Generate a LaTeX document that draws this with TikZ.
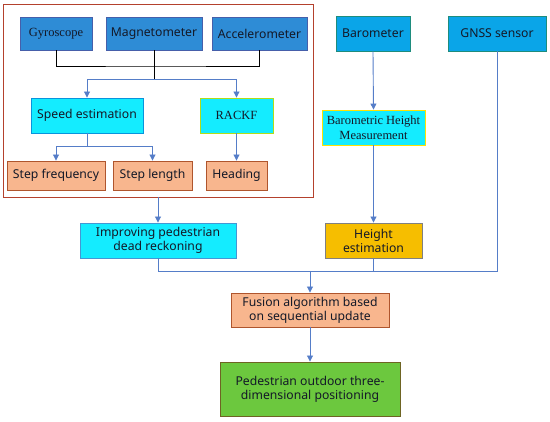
\documentclass[tikz,border=0pt]{standalone}
\usepackage{fontspec}
\setmainfont{Noto Sans}
\newfontfamily\serifpart{Liberation Serif}
\usetikzlibrary{arrows.meta}
\definecolor{sensorblue}{RGB}{46,140,214}
\definecolor{sensorline}{RGB}{70,95,170}
\definecolor{skyblue}{RGB}{10,165,232}
\definecolor{skyline}{RGB}{30,140,125}
\definecolor{brightcyan}{RGB}{20,236,255}
\definecolor{salmon}{RGB}{248,182,142}
\definecolor{salmonline}{RGB}{175,85,45}
\definecolor{amber}{RGB}{246,190,0}
\definecolor{leafgreen}{RGB}{108,200,62}
\definecolor{oliveline}{RGB}{110,100,35}
\definecolor{flowblue}{RGB}{85,125,200}
\definecolor{framered}{RGB}{180,65,45}
\definecolor{textdark}{RGB}{20,25,40}

\tikzset{
    box/.style={draw, line width=0.9pt, align=center, inner sep=1pt, text=textdark, font=\fontsize{12.2}{14}\selectfont},
    sensor/.style={box, fill=sensorblue, draw=sensorline},
    sensorb/.style={box, fill=skyblue, draw=skyline},
    stage/.style={box, fill=brightcyan},
    result/.style={box, fill=salmon, draw=salmonline},
    serifbox/.style={font=\serifpart\fontsize{12.5}{14.5}\selectfont},
    flow/.style={draw=flowblue, line width=0.9pt, -{Triangle[length=6pt, width=6pt]}},
    feed/.style={draw=flowblue, line width=0.9pt},
}

\begin{document}
\begin{tikzpicture}[x=1pt, y=-1pt]
        \useasboundingbox (0,0) rectangle (550,422);
        % 左側の枠
        \node[draw=framered, line width=0.8pt, minimum width=310pt, minimum height=193pt, inner sep=0pt] (frame) at (158,100.5) {};
        % センサ
        \node[sensor, serifbox, minimum width=72pt, minimum height=33pt] (gyro) at (56,33.5) {Gyroscope};
        \node[sensor, minimum width=96pt, minimum height=33pt] (magneto) at (154,33.5) {Magnetometer};
        \node[sensor, minimum width=95pt, minimum height=33pt] (accel) at (259.5,33.5) {Accelerometer};
        \node[sensorb, minimum width=74pt, minimum height=35pt] (baro) at (373,33.5) {Barometer};
        \node[sensorb, minimum width=98pt, minimum height=35pt] (gnss) at (497,33.5) {GNSS sensor};
        % 推定
        \node[stage, draw=cyan!80!blue, minimum width=112pt, minimum height=35pt] (speed) at (87,115.5) {Speed estimation};
        \node[stage, serifbox, draw=yellow!70!green, minimum width=73pt, minimum height=35pt] (rackf) at (236.5,115.5) {RACKF};
        \node[stage, serifbox, draw=yellow!85!orange, minimum width=103pt, minimum height=35pt] (barom) at (373.5,127.5) {Barometric Height\\Measurement};
        % 歩行パラメータ
        \node[result, minimum width=98pt, minimum height=29pt] (stepf) at (56,175.5) {Step frequency};
        \node[result, minimum width=79pt, minimum height=29pt] (stepl) at (152.5,175.5) {Step length};
        \node[result, minimum width=61pt, minimum height=29pt] (heading) at (236.5,175.5) {Heading};
        % 下段
        \node[stage, draw=flowblue!80!cyan, minimum width=156pt, minimum height=35pt] (pdr) at (158,240.5) {Improving pedestrian\\dead reckoning};
        \node[box, fill=amber, draw=gray, minimum width=97pt, minimum height=35pt] (height) at (373.5,240.5) {Height\\estimation};
        \node[result, minimum width=158pt, minimum height=34pt] (fusion) at (310,310) {Fusion algorithm based\\on sequential update};
        \node[box, fill=leafgreen, draw=oliveline, minimum width=180pt, minimum height=54pt] (pos) at (310,389) {Pedestrian outdoor three-\\dimensional positioning};
        % 分岐点
        \coordinate (join) at (154,66);
        \coordinate (split) at (154,79);
        \coordinate (speedsplit) at (87,146);
        \coordinate (merge) at (310,271);
        % 接続
        \draw[line width=0.9pt] (gyro.south) |- (join) -| (accel.south);
        \draw[line width=0.9pt] (magneto.south) -- (split);
        \draw[flow] (split) -| (speed.north);
        \draw[flow] (split) -| (rackf.north);
        \draw[feed] (speed.south) -- (speedsplit);
        \draw[flow] (speedsplit) -| (stepf.north);
        \draw[flow] (speedsplit) -| (stepl.north);
        \draw[flow] (rackf.south) -- (heading.north);
        \draw[flow] (baro.south) -- (barom.north);
        \draw[flow] (barom.south) -- (height.north);
        \draw[flow] (frame.south) -- (pdr.north);
        \draw[feed] (pdr.south) |- (merge);
        \draw[feed] (gnss.south) |- (merge);
        \draw[feed] (height.south) -- (height.south |- merge);
        \draw[flow] (merge) -- (fusion.north);
        \draw[flow] (fusion.south) -- (pos.north);
    \end{tikzpicture}
\end{document}
